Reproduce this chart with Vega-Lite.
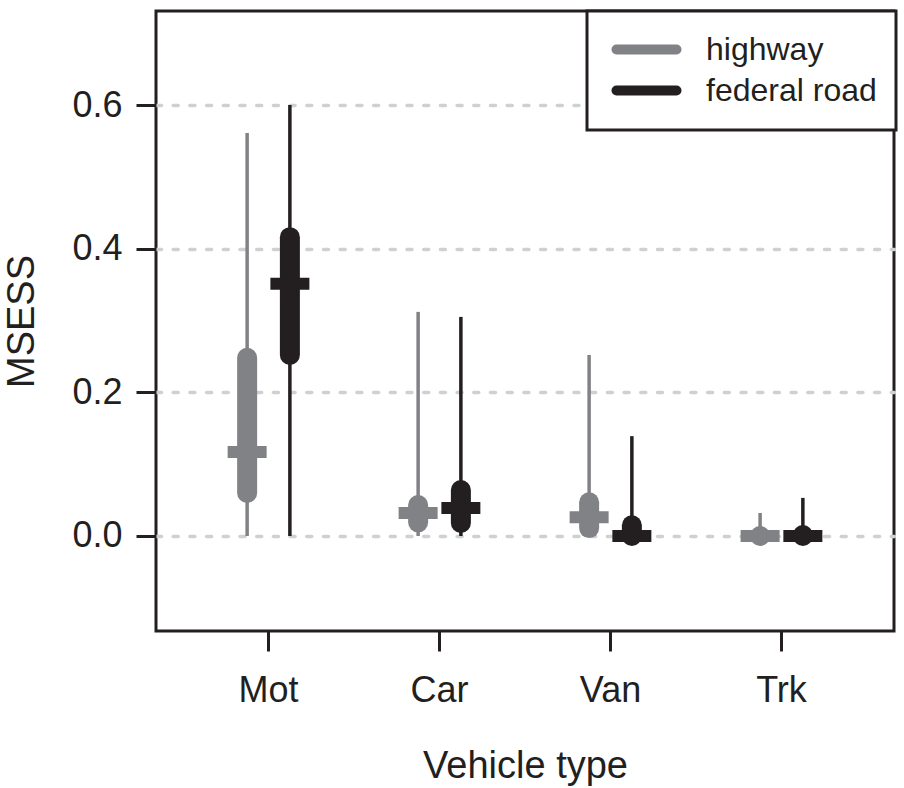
{
  "$schema": "https://vega.github.io/schema/vega-lite/v6.json",
  "width": 738,
  "height": 620,
  "autosize": {"type": "none"},
  "padding": {"left": 156, "top": 11, "right": 10, "bottom": 157},
  "background": "white",
  "config": {
    "font": "Liberation Sans",
    "view": {"stroke": "#231f20", "strokeWidth": 3},
    "axis": {
      "labelFont": "Liberation Sans",
      "labelFontSize": 36,
      "labelColor": "#231f20",
      "titleFont": "Liberation Sans",
      "titleFontSize": 38,
      "titleFontWeight": "normal",
      "titleColor": "#231f20",
      "tickColor": "#231f20",
      "tickWidth": 3,
      "tickSize": 20,
      "domain": false
    }
  },
  "data": {
    "values": [
      {"vehicle": "Mot", "road": "highway", "min": 0, "q1": 0.06, "median": 0.117, "q3": 0.248, "max": 0.561},
      {"vehicle": "Mot", "road": "federal road", "min": 0, "q1": 0.252, "median": 0.351, "q3": 0.416, "max": 0.6},
      {"vehicle": "Car", "road": "highway", "min": 0, "q1": 0.019, "median": 0.032, "q3": 0.043, "max": 0.312},
      {"vehicle": "Car", "road": "federal road", "min": 0, "q1": 0.018, "median": 0.039, "q3": 0.064, "max": 0.305},
      {"vehicle": "Van", "road": "highway", "min": 0, "q1": 0.011, "median": 0.026, "q3": 0.047, "max": 0.252},
      {"vehicle": "Van", "road": "federal road", "min": 0, "q1": 0.0, "median": 0.0, "q3": 0.015, "max": 0.139},
      {"vehicle": "Trk", "road": "highway", "min": 0, "q1": 0.0, "median": 0.0, "q3": 0.0, "max": 0.032},
      {"vehicle": "Trk", "road": "federal road", "min": 0, "q1": 0.0, "median": 0.0, "q3": 0.0014, "max": 0.053}
    ]
  },
  "encoding": {
    "x": {
      "field": "vehicle",
      "type": "nominal",
      "sort": ["Mot", "Car", "Van", "Trk"],
      "scale": {"paddingInner": 0, "paddingOuter": 0.158},
      "axis": {"labelAngle": 0, "title": "Vehicle type", "labelPadding": 22, "titlePadding": 39, "grid": false}
    },
    "xOffset": {
      "field": "road",
      "type": "nominal",
      "sort": ["highway", "federal road"],
      "scale": {"paddingInner": 0, "paddingOuter": 1.515}
    }
  },
  "layer": [
    {
      "mark": {"type": "rule", "strokeWidth": 3.5},
      "encoding": {
        "y": {
          "field": "min",
          "type": "quantitative",
          "scale": {"domain": [-0.1323, 0.7309], "nice": false, "zero": false},
          "axis": {
            "title": "MSESS",
            "values": [0, 0.2, 0.4, 0.6],
            "format": ".1f",
            "labelPadding": 14,
            "titlePadding": 30,
            "grid": true,
            "gridColor": "#cfd0d2",
            "gridWidth": 3.5,
            "gridDash": [5, 11.7],
            "gridCap": "round"
          }
        },
        "y2": {"field": "max"},
        "color": {
          "field": "road",
          "type": "nominal",
          "sort": ["highway", "federal road"],
          "scale": {"domain": ["highway", "federal road"], "range": ["#808285", "#231f20"]},
          "legend": {
            "title": null,
            "orient": "none",
            "legendX": 431,
            "legendY": 0,
            "symbolType": "M-2.069,0L2.069,0",
            "symbolSize": 841,
            "symbolStrokeWidth": 10,
            "symbolOffset": 21,
            "labelOffset": 40,
            "labelFont": "Liberation Sans",
            "labelFontSize": 32,
            "labelColor": "#231f20",
            "labelLimit": 400,
            "padding": 19,
            "rowPadding": 0,
            "strokeColor": "#231f20",
            "fillColor": "white",
            "encode": {
              "legend": {"update": {"strokeWidth": {"value": 3}}},
              "symbols": {"update": {"strokeCap": {"value": "round"}}}
            }
          }
        }
      }
    },
    {
      "mark": {"type": "rule", "strokeWidth": 20, "strokeCap": "round"},
      "encoding": {
        "y": {"field": "q1", "type": "quantitative"},
        "y2": {"field": "q3"},
        "color": {"field": "road", "type": "nominal", "legend": null}
      }
    },
    {
      "mark": {"type": "tick", "size": 39, "thickness": 12, "opacity": 1},
      "encoding": {
        "y": {"field": "median", "type": "quantitative"},
        "color": {"field": "road", "type": "nominal", "legend": null}
      }
    }
  ]
}
